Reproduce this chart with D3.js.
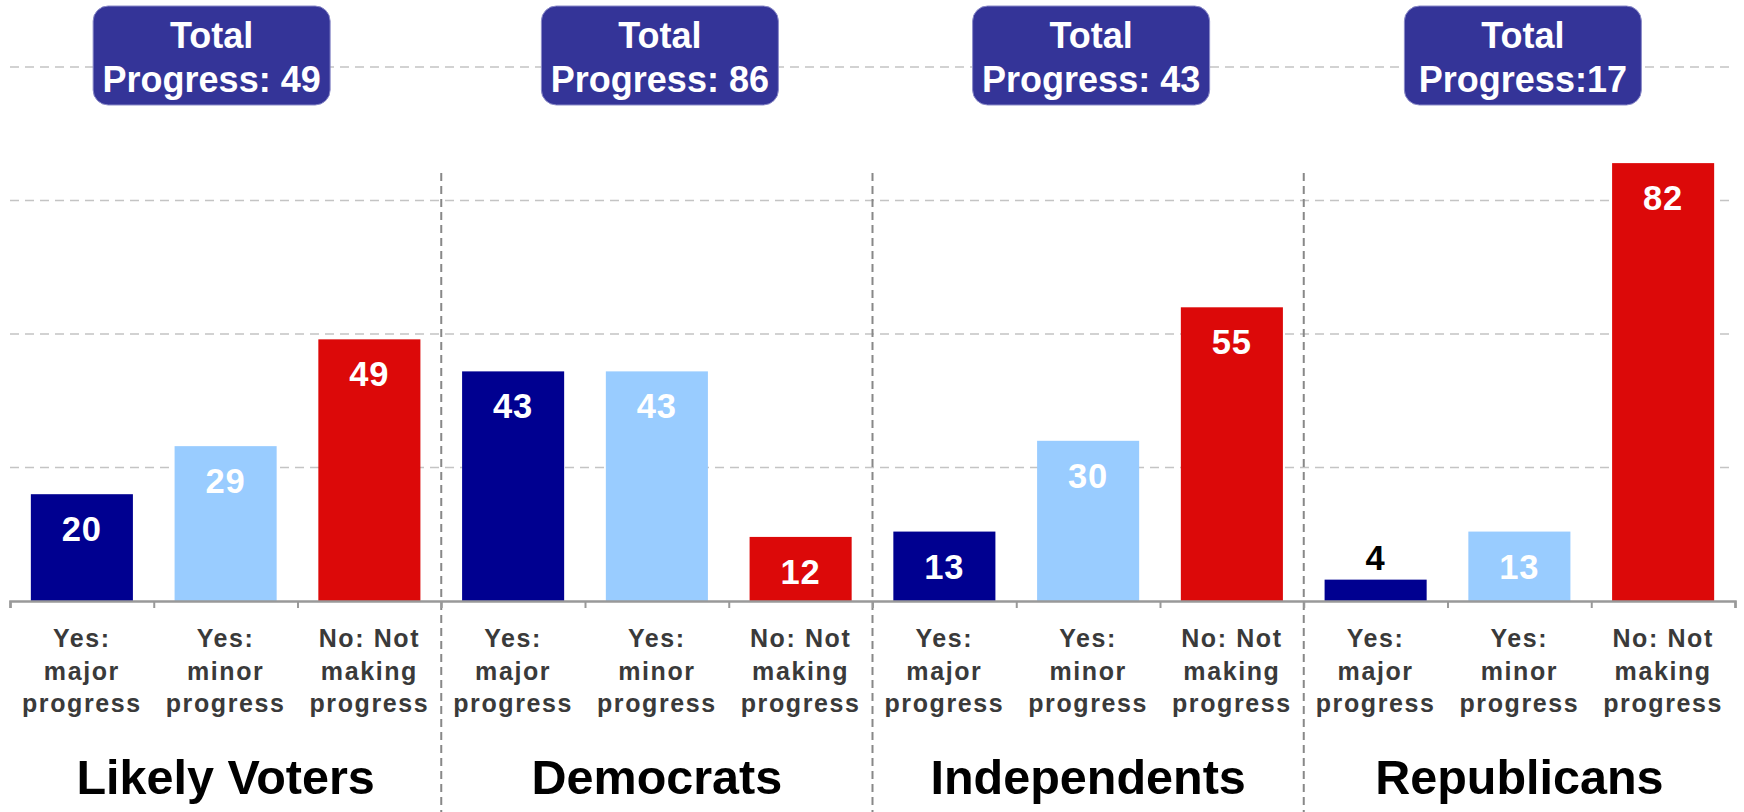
<!DOCTYPE html>
<html>
<head>
<meta charset="utf-8">
<script src="https://cdn.jsdelivr.net/npm/d3@7/dist/d3.min.js"></script>
<style>
  html, body { margin: 0; padding: 0; background: #fff; }
  svg { display: block; font-family: "Liberation Sans", Arial, sans-serif; }
</style>
</head>
<body>
<svg id="chart" width="1744" height="812"></svg>
<script>
// ---- Data ----
const groups = ["Likely Voters", "Democrats", "Independents", "Republicans"];
const responses = ["Yes: major progress", "Yes: minor progress", "No: Not making progress"];
const responseLines = [["Yes:", "major", "progress"], ["Yes:", "minor", "progress"], ["No: Not", "making", "progress"]];
const majorValues = [20, 43, 13, 4];
const minorValues = [29, 43, 30, 13];
const notValues = [49, 12, 55, 82];
const totalLabels = ["Total|Progress: 49", "Total|Progress: 86", "Total|Progress: 43", "Total|Progress:17"];
const yTicks = [25, 50, 75, 100];

// ---- Layout ----
const colors = ["#000090", "#99ccff", "#dc0909"];
const W = 1744, H = 812;
const left = 10, right = 1735, baseY = 601, topY = 67;
const boxOffsets = [-14, 3, 3, 3.5];

const rows = [];
groups.forEach((g, gi) => {
  const vals = [majorValues[gi], minorValues[gi], notValues[gi]];
  responses.forEach((r, ri) => rows.push({ key: gi + "-" + ri, group: gi, resp: ri, value: vals[ri] }));
});

const svg = d3.select("#chart");
const pIn = 0.29;
const x = d3.scaleBand().domain(rows.map(d => d.key)).range([left, right]).paddingInner(pIn).paddingOuter(pIn / 2);
const y = d3.scaleLinear().domain([0, 100]).range([baseY, topY]);
const boundary = d3.scaleLinear().domain([0, rows.length]).range([left, right]);

// gridlines
svg.append("g").selectAll("line").data(yTicks).join("line")
  .attr("x1", left).attr("x2", right)
  .attr("y1", d => y(d)).attr("y2", d => y(d))
  .attr("stroke", "#c4c4c4").attr("stroke-width", 1.5).attr("stroke-dasharray", "9,6");

// group dividers
svg.append("g").selectAll("line").data([3, 6, 9]).join("line")
  .attr("x1", d => boundary(d)).attr("x2", d => boundary(d))
  .attr("y1", 173).attr("y2", H)
  .attr("stroke", "#888").attr("stroke-width", 2).attr("stroke-dasharray", "8,5");

// bars
svg.append("g").selectAll("rect").data(rows).join("rect")
  .attr("x", d => x(d.key)).attr("width", x.bandwidth())
  .attr("y", d => y(d.value)).attr("height", d => baseY - y(d.value))
  .attr("fill", d => colors[d.resp]);

// value labels
svg.append("g").selectAll("text").data(rows).join("text")
  .attr("x", d => x(d.key) + x.bandwidth() / 2)
  .attr("y", d => (baseY - y(d.value)) > 55 ? y(d.value) + 47 : y(d.value) - 10)
  .attr("text-anchor", "middle")
  .attr("font-size", 34.5).attr("font-weight", "bold").attr("letter-spacing", 1)
  .attr("fill", d => (baseY - y(d.value)) > 55 ? "#fff" : "#000")
  .text(d => d.value);

// axis
const axis = d3.axisBottom(boundary).tickValues(d3.range(0, rows.length + 1)).tickSize(7).tickFormat("");
const ax = svg.append("g").attr("transform", `translate(0,${baseY})`).call(axis);
ax.select(".domain").attr("stroke", "#999").attr("stroke-width", 2.5);
ax.selectAll(".tick line").attr("stroke", "#999").attr("stroke-width", 2);

// category labels
const cat = svg.append("g").selectAll("text").data(rows).join("text")
  .attr("text-anchor", "middle")
  .attr("font-size", 25).attr("font-weight", "bold").attr("fill", "#3a3a3a")
  .attr("letter-spacing", 1.6);
cat.each(function(d) {
  const cx = x(d.key) + x.bandwidth() / 2;
  d3.select(this).selectAll("tspan").data(responseLines[d.resp]).join("tspan")
    .attr("x", cx).attr("y", (t, i) => 647 + i * 32.5).text(t => t);
});

// group titles
svg.append("g").selectAll("text").data(groups).join("text")
  .attr("x", (g, i) => boundary(i * 3 + 1.5)).attr("y", 794)
  .attr("text-anchor", "middle").attr("font-size", 48.5).attr("font-weight", "bold").attr("fill", "#000")
  .text(g => g);

// total progress boxes
const boxW = 237, boxH = 99;
const bx = svg.append("g").selectAll("g").data(totalLabels).join("g")
  .attr("transform", (t, i) => `translate(${boundary(i * 3 + 1.5) + boxOffsets[i]},0)`);
bx.append("rect")
  .attr("x", -boxW / 2).attr("y", 6).attr("width", boxW).attr("height", boxH)
  .attr("rx", 15).attr("ry", 15)
  .attr("fill", "#343498").attr("stroke", "#8a8ac8").attr("stroke-width", 1);
bx.append("text").attr("text-anchor", "middle").attr("font-size", 36).attr("font-weight", "bold").attr("fill", "#fff")
  .selectAll("tspan").data(t => t.split("|")).join("tspan")
  .attr("x", 0).attr("y", (t, i) => 48 + i * 44).text(t => t);
</script>
</body>
</html>
